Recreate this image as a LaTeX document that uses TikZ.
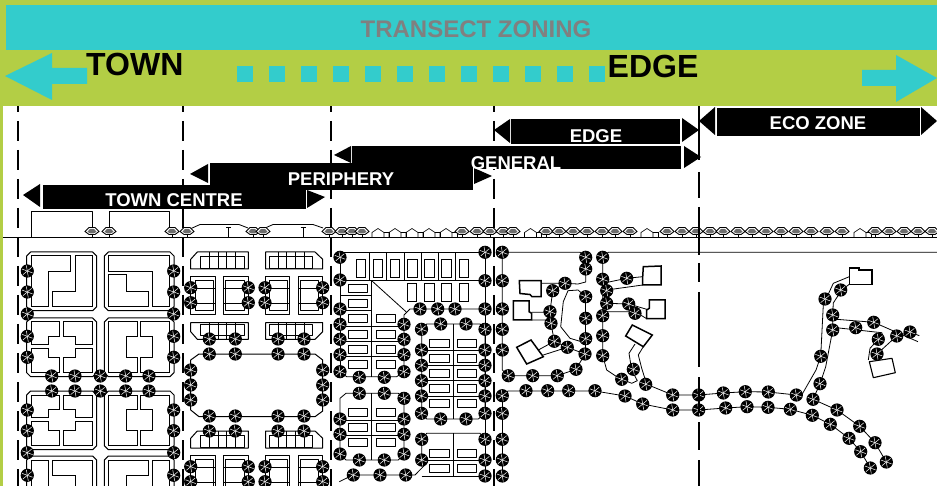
\documentclass[tikz,border=0pt]{standalone}
\usepackage{fontspec}
\setmainfont{Liberation Sans}
\definecolor{lime}{HTML}{B3CE45}
\definecolor{teal2}{HTML}{33CCCC}
\definecolor{lab}{HTML}{808080}
\tikzset{
  plan/.style={draw=black,line width=0.8pt,line join=round},
  bldg/.style={draw=black,line width=1pt,line join=miter},
  thickb/.style={draw=black,line width=1.5pt},
  zonebar/.style={fill=black},
  zonelabel/.style={text=white,font=\fontsize{18.5}{20}\selectfont\bfseries,inner sep=0pt,anchor=base},
  bigword/.style={text=black,font=\fontsize{32}{34}\selectfont\bfseries,inner sep=0pt,anchor=base west},
  zonedash/.style={draw=black,line width=2pt,dash pattern=on 20pt off 9pt,dash phase=14pt},
  plantree/.pic={
    \fill[black] (0,0) circle (6.6);
    \foreach \a in {20,80,140,200,260,320}{\draw[white,line width=0.5pt] (0,0) -- (\a:5.6);}
  },
  elevtree/.pic={
    \draw[black,line width=0.7pt] (0,2) -- (0,6);
    \draw[fill=white,draw=black,line width=0.9pt] (-7,0) -- (-3,-4) -- (3,-4) -- (7,0) -- (3,3) -- (-3,3) -- cycle;
    \fill[gray!85!black] (-4.5,0.3) -- (-2,-2.6) -- (2,-2.6) -- (4.5,0.3) -- (2,1.8) -- (-2,1.8) -- cycle;
  },
  house/.pic={
    \draw[black,line width=0.6pt] (0,5.5) -- (0,0.5) -- (6,-3.5) -- (12,0.5) -- (12,5.5);
    \draw[black,line width=0.6pt] (12,0.5) -- (17,0.5) (17,0.5) -- (17,5.5);
  }
}
\newcommand\treesat[1]{\foreach \tx/\ty in {#1}{\pic at (\tx,\ty) {plantree};}}
\newcommand\chblock[4]{%
  \draw[plan,line width=1pt] (#1+4,#2) -- (#3-4,#2) -- (#3,#2+4) -- (#3,#4-4) -- (#3-4,#4) -- (#1+4,#4) -- (#1,#4-4) -- (#1,#2+4) -- cycle;}
\begin{document}
\begin{tikzpicture}[x=1pt,y=-1pt]
\useasboundingbox (0,0) rectangle (937,486);
\clip (0,0) rectangle (937,486);
\fill[white] (0,0) rectangle (937,486);

% ---- ground plan ----
% town blocks, first row
\chblock{26.7}{252}{96.7}{310.7}
\chblock{104.3}{252}{174}{310.7}
\draw[bldg] (31,256) -- (70.7,256) -- (70.7,271.3) -- (48.3,271.3) -- (48.3,306.7) -- (31,306.7) -- cycle;
\draw[bldg] (75,256) -- (92.7,256) -- (92.7,306.7) -- (52.3,306.7) -- (52.3,291.7) -- (75,291.7) -- cycle;
\draw[bldg] (108.3,256) -- (169.3,256) -- (169.3,306.7) -- (152.7,306.7) -- (152.7,271.3) -- (108.3,271.3) -- cycle;
\draw[bldg] (108.3,274.7) -- (126,274.7) -- (126,291.7) -- (148.3,291.7) -- (148.3,306.7) -- (108.3,306.7) -- cycle;
% town blocks, second and third rows
\foreach \dy in {0,73}{
  \begin{scope}[yshift=-\dy pt]
  \chblock{26.7}{318}{96.7}{376.7}
  \chblock{104.3}{318}{174}{376.7}
  \draw[bldg] (31,322) -- (59.3,322) -- (59.3,336.7) -- (48.3,336.7) -- (48.3,344.7) -- (31,344.7) -- cycle;
  \draw[bldg] (63.3,322) -- (92.7,322) -- (92.7,344.7) -- (75,344.7) -- (75,336.7) -- (63.3,336.7) -- cycle;
  \draw[bldg] (31,348.3) -- (48.3,348.3) -- (48.3,357.3) -- (59.3,357.3) -- (59.3,372.7) -- (31,372.7) -- cycle;
  \draw[bldg] (75,348.3) -- (92.7,348.3) -- (92.7,372.7) -- (63.3,372.7) -- (63.3,357.3) -- (75,357.3) -- cycle;
  \draw[bldg] (108.3,322) -- (137.3,322) -- (137.3,336.7) -- (126,336.7) -- (126,357.3) -- (137.3,357.3) -- (137.3,372.7) -- (108.3,372.7) -- cycle;
  \draw[bldg] (140.7,322) -- (169.3,322) -- (169.3,372.7) -- (140.7,372.7) -- (140.7,357.3) -- (152.7,357.3) -- (152.7,336.7) -- (140.7,336.7) -- cycle;
  \end{scope}}
% town blocks, fourth row
\chblock{26.7}{456}{96.7}{520}
\chblock{104.3}{456}{174}{520}
\draw[bldg] (31,460) -- (48.3,460) -- (48.3,500) -- (31,500) -- cycle;
\draw[bldg] (52.3,460) -- (92.7,460) -- (92.7,500) -- (75,500) -- (75,475) -- (52.3,475) -- cycle;
\draw[bldg] (108.3,460) -- (148.3,460) -- (148.3,475) -- (126,475) -- (126,500) -- (108.3,500) -- cycle;
\draw[bldg] (152.7,460) -- (169.3,460) -- (169.3,500) -- (152.7,500) -- cycle;
% periphery blocks
\foreach \dy in {0,179}{
  \begin{scope}[yshift=-\dy pt]
  \draw[plan,line width=1pt] (190.7,269) -- (190.7,259.3) -- (197.3,252) -- (248.3,252) -- (248.3,269) -- cycle;
  \draw[plan,line width=1pt] (265.7,252) -- (315,252) -- (322.7,259.3) -- (322.7,269) -- (265.7,269) -- cycle;
  \draw[plan] (200.7,256.7) rectangle (244.3,268);
  \draw[plan] (269.3,256.7) rectangle (312.7,268);
  \foreach \vx in {209.3,218.3,226.7,235.3,278,286.7,295.3,304}{\draw[plan] (\vx,252) -- (\vx,269);}
  \draw[plan,line width=1pt] (190.7,276.7) rectangle (215,314.7);
  \draw[plan,line width=1pt] (223.7,276.7) rectangle (248.3,314.7);
  \draw[plan,line width=1pt] (265.7,276.7) rectangle (289.3,314.7);
  \draw[plan,line width=1pt] (298.3,276.7) rectangle (322.7,314.7);
  \draw[plan,line width=1pt] (195,280.7) rectangle (213.3,310.7);
  \draw[plan,line width=1pt] (225.7,280.7) rectangle (244.3,310.7);
  \draw[plan,line width=1pt] (269.3,280.7) rectangle (287.7,310.7);
  \draw[plan,line width=1pt] (300,280.7) rectangle (318.3,310.7);
  \foreach \hy in {288.3,303.3}{
    \draw[plan] (190.7,\hy) -- (215,\hy);
    \draw[plan] (223.7,\hy) -- (248.3,\hy);
    \draw[plan] (265.7,\hy) -- (289.3,\hy);
    \draw[plan] (298.3,\hy) -- (322.7,\hy);}
  \end{scope}}
\draw[plan,line width=1pt] (190.7,322.7) -- (248.3,322.7) -- (248.3,339.3) -- (197.3,339.3) -- (190.7,331.7) -- cycle;
\draw[plan,line width=1pt] (265.7,322.7) -- (322.7,322.7) -- (322.7,331.7) -- (315,339.3) -- (265.7,339.3) -- cycle;
\draw[plan] (200.7,324) rectangle (244.3,335);
\draw[plan] (269.3,324) rectangle (312.7,335);
\foreach \vx in {209.3,218.3,226.7,235.3,278,286.7,295.3,304}{\draw[plan] (\vx,322.7) -- (\vx,339.3);}
\draw[plan,line width=1pt] (199,354) -- (315,354) -- (322.7,360) -- (322.7,411) -- (315,416.7) -- (199,416.7) -- (190.7,410) -- (190.7,360) -- cycle;

% general zone: top block
\draw[plan] (340,252.3) -- (485,252.3) (340,280.7) -- (485,280.7) (340,252.3) -- (340,371.7);
\foreach \vx in {369.3,386.7,404,421,438.3,455.7}{\draw[plan] (\vx,252.3) -- (\vx,280.7);}
\foreach \vx in {356,373.3,390.3,407.7,424.7,441.7,459}{\draw[bldg] (\vx,259.3) rectangle (\vx+9.3,277.3);}
\foreach \vx in {407.3,424.7,441.7,459}{\draw[bldg] (\vx,284) rectangle (\vx+9.3,301.7);}
\draw[plan] (485,252.3) -- (485,476);
\draw[plan] (371.7,280.7) -- (406,311.7) (404,324) -- (404,315) -- (410,309) -- (485,309);
\draw[plan] (371.7,280.7) -- (371.7,377);
\draw[plan] (340,295.3) -- (371.7,295.3) (340,310.7) -- (371.7,310.7);
\draw[plan] (340,326) -- (404,326) (340,341.7) -- (404,341.7) (340,356.7) -- (404,356.7);
\draw[plan] (340,371.7) -- (346.7,376.7) -- (396.7,376.7) -- (404,371.7) -- (404,324);
\foreach \ry in {284,299.3,314.3,330,345,360}{\draw[plan] (348.3,\ry) rectangle (367.7,\ry+8);}
\foreach \ry in {314.3,330,345,360}{\draw[plan] (376,\ry) rectangle (395.7,\ry+8);}
% lower-left block
\draw[plan] (340,419) -- (340,398.3) -- (346,393.3) -- (398.3,393.3) -- (404,398.3) -- (404,454) -- (398.3,460) -- (346,460) -- (340,454) -- cycle;
\draw[plan] (371.7,393.3) -- (371.7,460) (340,420) -- (404,420) (340,435) -- (404,435);
\foreach \ry in {408.3,423.3,438.3}{
  \draw[plan] (348.3,\ry) rectangle (367.7,\ry+8);
  \draw[plan] (376,\ry) rectangle (395.7,\ry+8);}
\draw[plan] (339.3,481.7) -- (353,475) -- (415,475) -- (426.7,463) -- (421.7,460);
\draw[plan] (421.7,476) -- (485,476);
% middle block
\draw[plan] (426.7,324) -- (480,324) -- (485,329.3) -- (485,413.3) -- (478.3,419) -- (426.7,419) -- (421.7,413.3) -- (421.7,329.3) -- cycle;
\draw[plan] (453.3,324) -- (453.3,419);
\foreach \hy in {350,365.3,380.7,396}{\draw[plan] (421.7,\hy) -- (485,\hy);}
\foreach \ry in {339.3,354,369.3,384.3,399.3}{
  \draw[plan] (429.3,\ry) rectangle (449.3,\ry+8);
  \draw[plan] (457.3,\ry) rectangle (476.7,\ry+8);}
% bottom block
\draw[plan] (421.7,460) -- (421.7,439.3) -- (426.7,433.3) -- (480,433.3) -- (485,439.3);
\draw[plan] (453.3,433.3) -- (453.3,476) (421.7,460) -- (485,460);
\foreach \ry in {449.3,464}{
  \draw[plan] (429.3,\ry) rectangle (449.3,\ry+8);
  \draw[plan] (457.3,\ry) rectangle (476.7,\ry+8);}

% edge zone roads and houses
\draw[plan] (502.3,252.3) -- (502.3,370) -- (508.3,375.7) -- (557.3,375.7) -- (576,369.3) -- (585,354);
\draw[plan] (502.3,252.3) -- (580,252.3) -- (585.7,257.3) -- (585.7,282) -- (578,284) -- (565,283.3) -- (552.7,290.7) -- (550,311.7) -- (551,323.3) -- (554.3,341.3) -- (567.3,347.3) -- (585,354);
\draw[plan] (585.7,296.7) -- (578,290) -- (568,290.7) -- (563.3,301.7) -- (560.7,326.7) -- (570,338.3) -- (585.7,343);
\draw[plan] (585.7,296.7) -- (585.7,354);
\draw[plan] (541.7,283.3) -- (565,283.3) (531.7,312.3) -- (550,312.3) (531.7,320) -- (551,320) (538.3,350) -- (554.3,341.3) (543.3,355) -- (567.3,347.3);
\draw[thickb] (519.3,280.7) -- (541,280.7) -- (541,296.7) -- (532,296.7) -- (530,294.5) -- (520,293.5) -- cycle;
\draw[thickb] (513.3,301) -- (529,301) -- (529,311.7) -- (531.7,313.3) -- (531.7,320) -- (513.3,320) -- cycle;
\draw[thickb] (516.7,347.3) -- (531,340) -- (538.3,350) -- (543.3,356.7) -- (526.7,364) -- cycle;
\draw[thickb] (643.3,266.7) -- (661,266) -- (661,285) -- (642.7,285) -- (642.7,276.7) -- cycle;
\draw[thickb] (649.3,300) -- (665,300) -- (665,318.7) -- (646.7,318.7) -- (646.7,310) -- (649.3,308.3) -- cycle;
\draw[thickb] (625.7,336) -- (632.3,325) -- (652.3,335) -- (643.3,346.7) -- cycle;
\draw[plan] (602.7,355.7) -- (602.7,257.3) -- (608.3,252.3) -- (937,252.3);
\draw[plan] (602.7,283.3) -- (626.7,278.3) -- (642.7,276.7) (606.7,290) -- (642.7,285) (606.7,303.3) -- (628.7,304) -- (646.7,309.3) (602.7,311.7) -- (635,311.7) -- (646.7,318.7);
\draw[plan] (602.7,355.7) -- (606.7,370) -- (616.7,376.7) -- (621.7,379.3) -- (631.7,383.3) -- (637.3,380.7) -- (631.7,370) -- (629,353.3) -- (635,344);
\draw[plan] (643.3,346.7) -- (638.3,355) -- (641.7,368.3) -- (646.7,384.3) -- (672.7,395);
\draw[plan] (502.3,395.7) -- (508,391) -- (595,391) -- (625,396) -- (642.7,404) -- (672.7,410) -- (698.7,410) -- (725.7,408) -- (747,406.7) -- (768,407.3) -- (790.3,409.3) -- (812.3,415.3) -- (830.3,424.3) -- (849,438.3) -- (860.7,451.7) -- (870.3,468);
\draw[plan] (502.3,395.7) -- (502.3,476);
\draw[plan] (672.7,395) -- (698.7,395) -- (723.3,393) -- (745.3,391.7) -- (768.3,392) -- (796.3,395) -- (801.7,395) -- (816,370) -- (820.7,356.3) -- (823.3,305) -- (833.3,283.3) -- (849.3,276.7);
\draw[plan] (886.3,462) -- (875,442.7) -- (859.7,426.3) -- (837,410) -- (813,399.3) -- (820,383.7) -- (825.7,366.7) -- (832.7,330) -- (832.7,315) -- (833.3,303) -- (841.7,290) -- (849.3,284.3);
\draw[plan] (832.7,319) -- (873.7,322.3) -- (918,341.7);
\draw[plan] (832.7,327.3) -- (881.7,332.7) -- (884,338);
\draw[plan] (878.3,339.3) -- (870,348.3) -- (868.3,360);
\draw[plan] (877,354) -- (896.7,336) -- (910,332) -- (919.3,335.7);
\draw[thickb,line width=1.3pt] (849.3,268) -- (859,268) -- (859,270) -- (872,270) -- (872,284.3) -- (849.3,284.3) -- cycle;
\draw[plan,line width=1.1pt] (869.3,361.7) -- (892,358.3) -- (895.3,372.7) -- (873.3,377.7) -- cycle;

% ---- plan trees ----
\foreach \tx in {27.3,173.7}{\foreach \ty in {271,292,314,336.3,357.3,410,430.7,452.7,475.3}{\pic at (\tx,\ty) {plantree};}}
\foreach \tx in {51.7,75,100.3,125.7,149}{\foreach \ty in {376,391}{\pic at (\tx,\ty) {plantree};}}
\foreach \tx in {190.7,248.3,265,322.7}{\foreach \ty in {287.7,302.7,466.7,481.7}{\pic at (\tx,\ty) {plantree};}}
\foreach \tx in {209.3,235.3,278,304}{\foreach \ty in {339,354,416,431}{\pic at (\tx,\ty) {plantree};}}
\foreach \tx in {190.7,322.7}{\foreach \ty in {370,385,400}{\pic at (\tx,\ty) {plantree};}}
\foreach \ty in {257.3,280,309,324.3,339.3,354.7,371.7,419,434.3,454}{\pic at (340,\ty) {plantree};}
\foreach \ty in {324.3,339.3,354.7,371.7,398.3,419,434.3,454}{\pic at (404,\ty) {plantree};}
\foreach \tx in {359.3,384.3}{\foreach \ty in {377.3,393.3,460}{\pic at (\tx,\ty) {plantree};}}
\treesat{353.3/475,380/475,405.7/475,420/309,437.7/309,455/309,485/252.3,485/280.7,485/309,440.7/324,466/324,440.7/419,466/419}
\foreach \ty in {329.3,350,365.3,380.7,396,413.3}{\pic at (421.5,\ty) {plantree};\pic at (485,\ty) {plantree};}
\treesat{421.7/439.3,421.7/460,485/439.3,485/460,485/476}
\foreach \ty in {252.3,280.7,309,329.3,350,395.7,413.3,439.3,460,476}{\pic at (502.3,\ty) {plantree};}
\treesat{508.3/375.7,532.7/375.7,557.3/375.7,576/369.3,585/354,567.3/347.3,554.3/341.3,551/323.3,550/311.7,552.7/290.7,565/283.3,585.7/269,585.7/257.3,585.7/296.7,585.7/318.3,585.7/338.7}
\treesat{602.7/257.3,602.7/279.3,602.7/315.7,602.7/335.7,602.7/355.7,626.7/278.3,606.7/290.7,606.7/303.3,628.7/304,635/313.3,621.7/379.3,633.3/369.3,645.7/384.3}
\treesat{526/390.7,547.7/390.7,568.7/390.7,595/390.7,625/396,642.7/404}
\treesat{672.7/395,698.7/395,723.3/393,745.3/391.7,768.3/392,796.3/395}
\treesat{672.7/410,698.7/410,725.7/408,747/406.7,768/407.3,790.3/409.3,812.3/415.3,830.3/424.3,849/438.3,860.7/451.7,870.3/468}
\treesat{813/399.3,837/410,859.7/426.3,875/442.7,886.3/462}
\treesat{820/383.7,820.7/356.3,825/299,840.7/290,832.7/315,832.7/330,855.7/327.7,873.7/322.3,878.3/339.3,896.7/336,910/332,877/354}

% ---- elevation strip ----
\draw[black,line width=0.9pt] (3,237.5) -- (937,237.5);
\draw[plan] (31,237.5) -- (31,211) -- (92,211) -- (92,228);
\draw[plan] (109,228) -- (109,211) -- (169,211) -- (169,228);
\draw[plan] (190,229) -- (200,224.5) -- (239,224.5) -- (248,228);
\draw[plan] (263,229) -- (273,224.5) -- (313,224.5) -- (323,228);
\draw[plan] (228.5,237.5) -- (228.5,227) (226,227) -- (231,227);
\draw[plan] (303,237.5) -- (303,227) (300.5,227) -- (305.5,227);
\foreach \tx in {372,389,406,423,440,524.5,641,854}{\pic at (\tx,232) {house};}
\foreach \tx in {92,109,172,187,253,263,329,342,352,362,462,477,490,503,513,546,559,573,587,602,615,630,667,682,696,710,723,738,752,766,781,796,811,827,842,875,889,904,918,932}{\pic at (\tx,231.5) {elevtree};}

% ---- dashed transect lines ----
\foreach \dx in {18,182.5,331,493.5}{\draw[zonedash] (\dx,106) -- (\dx,486);}
\draw[zonedash,dash pattern=on 100pt off 0pt] (699,106) -- (699,160) (699,172) -- (699,198) (699,207) -- (699,255) (699,263) -- (699,282) (699,292) -- (699,367) (699,377) -- (699,413) (699,422) -- (699,450) (699,460) -- (699,486);

% ---- header ----
\fill[lime] (0,0) rectangle (937,106);
\fill[lime] (0,0) rectangle (3,486);
\fill[teal2] (6,5) rectangle (937,50);
\node (title) at (476,37.5) [text=lab,font=\fontsize{24}{26}\selectfont\bfseries,inner sep=0pt,anchor=base] {TRANSECT ZONING};
\node (town) at (86,76) [bigword] {TOWN};
\node (edgeword) at (607.5,78) [bigword] {EDGE};
\fill[teal2] (5,76) -- (52,53) -- (52,68) -- (87,68) -- (87,84) -- (52,84) -- (52,100) -- cycle;
\fill[teal2] (937,78) -- (896,55) -- (896,70) -- (862,70) -- (862,86) -- (896,86) -- (896,102) -- cycle;
\foreach \k in {0,...,11}{\fill[teal2] (237+32*\k,66) rectangle (253+32*\k,82);}

% ---- zone bars ----
\fill[zonebar] (23,195) -- (40,184) -- (40,207) -- cycle;
\fill[zonebar] (43,185) rectangle (306,209);
\fill[zonebar] (307,190) -- (325,197) -- (307,208) -- cycle;
\node (towncentre) at (174,207) [zonelabel] {TOWN CENTRE};
\fill[zonebar] (190,174) -- (208,164) -- (208,183) -- cycle;
\fill[zonebar] (210,163) rectangle (473,190);
\fill[zonebar] (474,168) -- (492,176) -- (474,184) -- cycle;
\node (periphery) at (341,186) [zonelabel] {PERIPHERY};
\fill[zonebar] (334,155) -- (351,146) -- (351,163) -- cycle;
\fill[zonebar] (352,146) rectangle (681,163);
\fill[zonebar] (474,163) rectangle (681,169);
\fill[zonebar] (684,146) -- (701,157) -- (684,168) -- cycle;
\node (general) at (516,170) [zonelabel] {GENERAL};
\fill[zonebar] (494,130) -- (510,119) -- (510,143) -- cycle;
\fill[zonebar] (511,119) rectangle (680,144);
\fill[zonebar] (682,118) -- (699,130) -- (682,142) -- cycle;
\node (edge) at (596,142.3) [zonelabel] {EDGE};
\fill[zonebar] (699,121) -- (715,107) -- (715,135) -- cycle;
\fill[zonebar] (717,108) rectangle (920,136);
\fill[zonebar] (921,107) -- (937,121) -- (921,135) -- cycle;
\node (eco) at (818,130) [zonelabel] {ECO ZONE};
\end{tikzpicture}
\end{document}
